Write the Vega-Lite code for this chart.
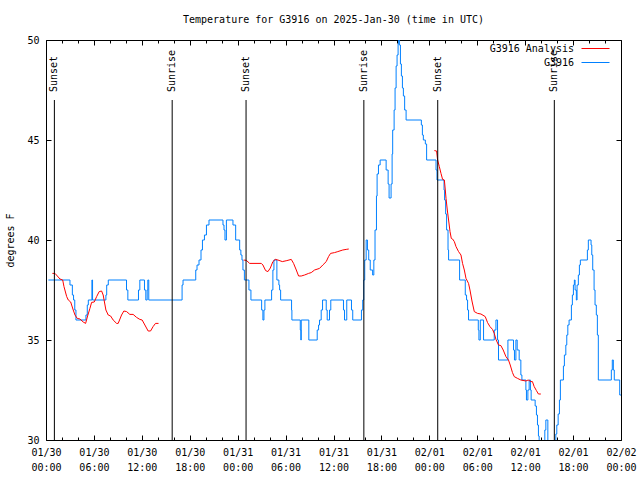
{
  "$schema": "https://vega.github.io/schema/vega-lite/v6.json",
  "width": 575,
  "height": 400,
  "autosize": {"type": "none"},
  "padding": {"left": 46, "top": 40, "right": 19, "bottom": 40},
  "background": "white",
  "title": {"text": "Temperature for G3916 on 2025-Jan-30 (time in UTC)", "font": "DejaVu Sans Mono", "fontSize": 10, "fontWeight": "normal", "anchor": "middle", "offset": 10, "color": "black"},
  "config": {
    "view": {"stroke": "black", "strokeWidth": 1},
    "axis": {"labelFont": "DejaVu Sans Mono", "labelFontSize": 10, "labelColor": "black", "tickColor": "black", "titleFont": "DejaVu Sans Mono", "titleFontSize": 10, "titleFontWeight": "normal", "titleColor": "black", "domain": false, "grid": false, "labelFlush": false, "labelOverlap": false, "labelBound": false}
  },
  "datasets": {
    "blue": [
      {"s":"G3916","h":0.3,"t":38},{"s":"G3916","h":3.0,"t":37.75},{"s":"G3916","h":3.3,"t":37.25},{"s":"G3916","h":3.45,"t":37},{"s":"G3916","h":3.6,"t":36.5},{"s":"G3916","h":3.75,"t":36},
      {"s":"G3916","h":5.0,"t":36.25},{"s":"G3916","h":5.17,"t":36.75},{"s":"G3916","h":5.3,"t":37},{"s":"G3916","h":5.75,"t":38},{"s":"G3916","h":5.83,"t":37},
      {"s":"G3916","h":7.5,"t":37.25},{"s":"G3916","h":7.6,"t":37.75},{"s":"G3916","h":7.8,"t":38},{"s":"G3916","h":10.08,"t":37.5},{"s":"G3916","h":10.25,"t":37},
      {"s":"G3916","h":11.58,"t":37.5},{"s":"G3916","h":11.75,"t":38},{"s":"G3916","h":12.33,"t":37.5},{"s":"G3916","h":12.5,"t":37},{"s":"G3916","h":12.67,"t":37.5},{"s":"G3916","h":12.75,"t":38},{"s":"G3916","h":12.87,"t":37},
      {"s":"G3916","h":17.04,"t":37.75},{"s":"G3916","h":17.16,"t":38},{"s":"G3916","h":18.75,"t":38.5},{"s":"G3916","h":18.91,"t":38.75},{"s":"G3916","h":19.16,"t":39},{"s":"G3916","h":19.41,"t":39.5},{"s":"G3916","h":19.59,"t":40},{"s":"G3916","h":19.84,"t":40.25},{"s":"G3916","h":20.09,"t":40.75},{"s":"G3916","h":20.41,"t":41},
      {"s":"G3916","h":22.16,"t":40.75},{"s":"G3916","h":22.29,"t":40.5},{"s":"G3916","h":22.41,"t":40},{"s":"G3916","h":22.59,"t":41},{"s":"G3916","h":23.41,"t":40.75},{"s":"G3916","h":23.75,"t":40},{"s":"G3916","h":24.25,"t":39.5},{"s":"G3916","h":24.4,"t":39.25},{"s":"G3916","h":24.54,"t":39},{"s":"G3916","h":24.66,"t":38.5},{"s":"G3916","h":24.84,"t":38},
      {"s":"G3916","h":25.41,"t":37.5},{"s":"G3916","h":25.66,"t":37},{"s":"G3916","h":27.0,"t":36.5},{"s":"G3916","h":27.16,"t":36},{"s":"G3916","h":27.29,"t":36.5},{"s":"G3916","h":27.41,"t":37},
      {"s":"G3916","h":28.25,"t":37.5},{"s":"G3916","h":28.41,"t":38.5},{"s":"G3916","h":28.54,"t":39},{"s":"G3916","h":28.91,"t":38},{"s":"G3916","h":29.16,"t":37.75},{"s":"G3916","h":29.25,"t":37.5},{"s":"G3916","h":29.38,"t":37},
      {"s":"G3916","h":30.75,"t":36.5},{"s":"G3916","h":30.79,"t":36},{"s":"G3916","h":31.84,"t":35.5},{"s":"G3916","h":31.91,"t":35},{"s":"G3916","h":31.96,"t":36},{"s":"G3916","h":32.91,"t":35},
      {"s":"G3916","h":33.96,"t":35.5},{"s":"G3916","h":34.13,"t":35.75},{"s":"G3916","h":34.25,"t":36},{"s":"G3916","h":34.46,"t":36.5},{"s":"G3916","h":34.63,"t":37},{"s":"G3916","h":35.09,"t":36.5},{"s":"G3916","h":35.21,"t":36},{"s":"G3916","h":35.5,"t":36.5},{"s":"G3916","h":35.66,"t":37},
      {"s":"G3916","h":37.25,"t":36.5},{"s":"G3916","h":37.38,"t":36},{"s":"G3916","h":37.66,"t":37},{"s":"G3916","h":38.25,"t":36.5},{"s":"G3916","h":38.41,"t":36},{"s":"G3916","h":39.5,"t":36.5},{"s":"G3916","h":39.66,"t":37},{"s":"G3916","h":39.79,"t":38},{"s":"G3916","h":39.91,"t":39},{"s":"G3916","h":40.09,"t":40},{"s":"G3916","h":40.25,"t":39.5},{"s":"G3916","h":40.41,"t":39},
      {"s":"G3916","h":40.6,"t":38.5},{"s":"G3916","h":40.9,"t":38.25},{"s":"G3916","h":41.05,"t":39},{"s":"G3916","h":41.2,"t":40.5},
      {"s":"G3916","h":41.38,"t":42.2},{"s":"G3916","h":41.46,"t":43.3},{"s":"G3916","h":41.63,"t":43.75},{"s":"G3916","h":41.84,"t":44},{"s":"G3916","h":42.59,"t":43.5},{"s":"G3916","h":42.84,"t":42.8},{"s":"G3916","h":42.96,"t":42.1},{"s":"G3916","h":43.21,"t":42.8},
      {"s":"G3916","h":43.34,"t":44.3},{"s":"G3916","h":43.41,"t":45.5},{"s":"G3916","h":43.59,"t":46.5},{"s":"G3916","h":43.71,"t":47.6},{"s":"G3916","h":43.84,"t":48.7},{"s":"G3916","h":43.96,"t":49.25},{"s":"G3916","h":44.09,"t":49.8},{"s":"G3916","h":44.16,"t":50},
      {"s":"G3916","h":44.25,"t":49.75},{"s":"G3916","h":44.38,"t":48.8},{"s":"G3916","h":44.5,"t":48.2},{"s":"G3916","h":44.63,"t":47.6},{"s":"G3916","h":44.75,"t":47.2},{"s":"G3916","h":44.91,"t":46.5},{"s":"G3916","h":45.09,"t":46},
      {"s":"G3916","h":47.0,"t":45.75},{"s":"G3916","h":47.13,"t":45.25},{"s":"G3916","h":47.25,"t":45},{"s":"G3916","h":47.5,"t":44.8},{"s":"G3916","h":47.66,"t":44},{"s":"G3916","h":48.84,"t":43.5},{"s":"G3916","h":48.96,"t":43},
      {"s":"G3916","h":49.84,"t":42.5},{"s":"G3916","h":49.91,"t":42},{"s":"G3916","h":50.04,"t":41.3},{"s":"G3916","h":50.16,"t":40.5},{"s":"G3916","h":50.34,"t":39.5},{"s":"G3916","h":50.41,"t":39},{"s":"G3916","h":51.79,"t":38},
      {"s":"G3916","h":52.5,"t":37.25},{"s":"G3916","h":52.66,"t":37},{"s":"G3916","h":52.79,"t":36.5},{"s":"G3916","h":52.91,"t":36},{"s":"G3916","h":54.13,"t":35.5},{"s":"G3916","h":54.21,"t":35},{"s":"G3916","h":54.38,"t":36},{"s":"G3916","h":54.79,"t":35},
      {"s":"G3916","h":56.13,"t":35.5},{"s":"G3916","h":56.34,"t":36},{"s":"G3916","h":56.54,"t":35},{"s":"G3916","h":56.66,"t":34},{"s":"G3916","h":57.84,"t":35},{"s":"G3916","h":58.54,"t":34.5},{"s":"G3916","h":58.66,"t":34},{"s":"G3916","h":58.84,"t":35},{"s":"G3916","h":59.0,"t":34.5},{"s":"G3916","h":59.25,"t":34},
      {"s":"G3916","h":59.46,"t":33.25},{"s":"G3916","h":59.59,"t":33},{"s":"G3916","h":60.09,"t":32.5},{"s":"G3916","h":60.16,"t":32},{"s":"G3916","h":60.34,"t":32.5},{"s":"G3916","h":60.5,"t":33},{"s":"G3916","h":60.66,"t":32.5},{"s":"G3916","h":60.75,"t":32},
      {"s":"G3916","h":61.25,"t":31.7},{"s":"G3916","h":61.41,"t":31.25},{"s":"G3916","h":61.54,"t":30.75},{"s":"G3916","h":61.66,"t":30.2},{"s":"G3916","h":61.75,"t":29},{"s":"G3916","h":62.46,"t":30.5},{"s":"G3916","h":62.59,"t":31},{"s":"G3916","h":62.84,"t":29},
      {"s":"G3916","h":63.84,"t":30.3},{"s":"G3916","h":63.96,"t":30.75},{"s":"G3916","h":64.13,"t":31.3},{"s":"G3916","h":64.29,"t":32},{"s":"G3916","h":64.41,"t":33},{"s":"G3916","h":64.79,"t":33.7},{"s":"G3916","h":64.91,"t":34.25},{"s":"G3916","h":65.09,"t":34.75},{"s":"G3916","h":65.21,"t":35.25},{"s":"G3916","h":65.34,"t":35.75},{"s":"G3916","h":65.5,"t":36},
      {"s":"G3916","h":65.79,"t":36.75},{"s":"G3916","h":65.91,"t":37.25},{"s":"G3916","h":66.04,"t":37.75},{"s":"G3916","h":66.16,"t":38},{"s":"G3916","h":66.25,"t":37.5},{"s":"G3916","h":66.41,"t":37},{"s":"G3916","h":66.5,"t":37.75},{"s":"G3916","h":66.66,"t":38.25},{"s":"G3916","h":66.79,"t":38.75},{"s":"G3916","h":66.91,"t":39},
      {"s":"G3916","h":67.79,"t":39.5},{"s":"G3916","h":67.91,"t":40},{"s":"G3916","h":68.25,"t":39.75},{"s":"G3916","h":68.34,"t":39.25},{"s":"G3916","h":68.46,"t":38.5},{"s":"G3916","h":68.63,"t":37.5},{"s":"G3916","h":68.75,"t":36.75},{"s":"G3916","h":68.91,"t":36.25},{"s":"G3916","h":69.04,"t":35.25},{"s":"G3916","h":69.16,"t":33},
      {"s":"G3916","h":70.79,"t":33.5},{"s":"G3916","h":70.91,"t":34},{"s":"G3916","h":71.04,"t":33.5},{"s":"G3916","h":71.16,"t":33},{"s":"G3916","h":71.84,"t":32.25},{"s":"G3916","h":72.0,"t":32.25}
    ],
    "red": [
      {"s":"G3916 Analysis","g":1,"h":0.8,"t":38.33},{"s":"G3916 Analysis","g":1,"h":1.13,"t":38.33},{"s":"G3916 Analysis","g":1,"h":1.75,"t":38.05},{"s":"G3916 Analysis","g":1,"h":2.09,"t":38.0},{"s":"G3916 Analysis","g":1,"h":2.25,"t":37.67},{"s":"G3916 Analysis","g":1,"h":2.59,"t":37.17},{"s":"G3916 Analysis","g":1,"h":2.79,"t":37.0},{"s":"G3916 Analysis","g":1,"h":3.09,"t":36.9},
      {"s":"G3916 Analysis","g":1,"h":3.41,"t":36.5},{"s":"G3916 Analysis","g":1,"h":3.63,"t":36.25},{"s":"G3916 Analysis","g":1,"h":3.91,"t":36.08},{"s":"G3916 Analysis","g":1,"h":4.25,"t":36.05},{"s":"G3916 Analysis","g":1,"h":4.66,"t":35.9},{"s":"G3916 Analysis","g":1,"h":4.96,"t":35.83},{"s":"G3916 Analysis","g":1,"h":5.21,"t":36.2},{"s":"G3916 Analysis","g":1,"h":5.5,"t":36.58},
      {"s":"G3916 Analysis","g":1,"h":5.71,"t":36.88},{"s":"G3916 Analysis","g":1,"h":6.04,"t":36.9},{"s":"G3916 Analysis","g":1,"h":6.34,"t":37.17},{"s":"G3916 Analysis","g":1,"h":6.66,"t":37.42},{"s":"G3916 Analysis","g":1,"h":6.96,"t":37.45},{"s":"G3916 Analysis","g":1,"h":7.16,"t":37.25},{"s":"G3916 Analysis","g":1,"h":7.5,"t":36.5},{"s":"G3916 Analysis","g":1,"h":7.79,"t":36.25},
      {"s":"G3916 Analysis","g":1,"h":8.09,"t":36.2},{"s":"G3916 Analysis","g":1,"h":8.41,"t":36.0},{"s":"G3916 Analysis","g":1,"h":8.84,"t":35.83},{"s":"G3916 Analysis","g":1,"h":9.04,"t":35.83},{"s":"G3916 Analysis","g":1,"h":9.46,"t":36.25},{"s":"G3916 Analysis","g":1,"h":9.75,"t":36.45},{"s":"G3916 Analysis","g":1,"h":10.09,"t":36.42},{"s":"G3916 Analysis","g":1,"h":10.5,"t":36.28},
      {"s":"G3916 Analysis","g":1,"h":10.91,"t":36.28},{"s":"G3916 Analysis","g":1,"h":11.34,"t":36.13},{"s":"G3916 Analysis","g":1,"h":11.75,"t":36.03},{"s":"G3916 Analysis","g":1,"h":12.04,"t":36.0},{"s":"G3916 Analysis","g":1,"h":12.38,"t":35.75},{"s":"G3916 Analysis","g":1,"h":12.79,"t":35.45},{"s":"G3916 Analysis","g":1,"h":13.09,"t":35.45},{"s":"G3916 Analysis","g":1,"h":13.41,"t":35.67},
      {"s":"G3916 Analysis","g":1,"h":13.71,"t":35.83},{"s":"G3916 Analysis","g":1,"h":14.09,"t":35.83},
      {"s":"G3916 Analysis","g":2,"h":24.75,"t":39.0},{"s":"G3916 Analysis","g":2,"h":25.09,"t":38.98},{"s":"G3916 Analysis","g":2,"h":25.5,"t":38.83},{"s":"G3916 Analysis","g":2,"h":26.96,"t":38.83},{"s":"G3916 Analysis","g":2,"h":27.16,"t":38.75},{"s":"G3916 Analysis","g":2,"h":27.5,"t":38.47},{"s":"G3916 Analysis","g":2,"h":27.79,"t":38.42},{"s":"G3916 Analysis","g":2,"h":28.09,"t":38.6},
      {"s":"G3916 Analysis","g":2,"h":28.41,"t":38.92},{"s":"G3916 Analysis","g":2,"h":28.71,"t":39.03},{"s":"G3916 Analysis","g":2,"h":29.04,"t":39.0},{"s":"G3916 Analysis","g":2,"h":29.59,"t":38.92},{"s":"G3916 Analysis","g":2,"h":30.16,"t":38.97},{"s":"G3916 Analysis","g":2,"h":30.71,"t":39.03},{"s":"G3916 Analysis","g":2,"h":31.0,"t":38.83},{"s":"G3916 Analysis","g":2,"h":31.34,"t":38.5},
      {"s":"G3916 Analysis","g":2,"h":31.63,"t":38.2},{"s":"G3916 Analysis","g":2,"h":31.96,"t":38.2},{"s":"G3916 Analysis","g":2,"h":32.38,"t":38.25},{"s":"G3916 Analysis","g":2,"h":32.88,"t":38.33},{"s":"G3916 Analysis","g":2,"h":33.21,"t":38.37},{"s":"G3916 Analysis","g":2,"h":33.63,"t":38.5},{"s":"G3916 Analysis","g":2,"h":34.25,"t":38.58},{"s":"G3916 Analysis","g":2,"h":34.66,"t":38.75},
      {"s":"G3916 Analysis","g":2,"h":35.09,"t":38.92},{"s":"G3916 Analysis","g":2,"h":35.38,"t":39.17},{"s":"G3916 Analysis","g":2,"h":35.63,"t":39.33},{"s":"G3916 Analysis","g":2,"h":36.13,"t":39.37},{"s":"G3916 Analysis","g":2,"h":36.54,"t":39.42},{"s":"G3916 Analysis","g":2,"h":37.16,"t":39.5},{"s":"G3916 Analysis","g":2,"h":37.59,"t":39.53},{"s":"G3916 Analysis","g":2,"h":37.91,"t":39.55},
      {"s":"G3916 Analysis","g":3,"h":48.63,"t":44.47},{"s":"G3916 Analysis","g":3,"h":48.91,"t":44.45},{"s":"G3916 Analysis","g":3,"h":49.04,"t":44.0},{"s":"G3916 Analysis","g":3,"h":49.25,"t":43.67},{"s":"G3916 Analysis","g":3,"h":49.46,"t":43.33},{"s":"G3916 Analysis","g":3,"h":49.66,"t":43.03},{"s":"G3916 Analysis","g":3,"h":49.88,"t":43.0},{"s":"G3916 Analysis","g":3,"h":50.0,"t":42.5},
      {"s":"G3916 Analysis","g":3,"h":50.09,"t":42.08},{"s":"G3916 Analysis","g":3,"h":50.25,"t":41.5},{"s":"G3916 Analysis","g":3,"h":50.41,"t":41.0},{"s":"G3916 Analysis","g":3,"h":50.59,"t":40.42},{"s":"G3916 Analysis","g":3,"h":50.75,"t":40.08},{"s":"G3916 Analysis","g":3,"h":50.91,"t":40.05},{"s":"G3916 Analysis","g":3,"h":51.13,"t":39.92},{"s":"G3916 Analysis","g":3,"h":51.34,"t":39.67},
      {"s":"G3916 Analysis","g":3,"h":51.66,"t":39.42},{"s":"G3916 Analysis","g":3,"h":51.96,"t":39.25},{"s":"G3916 Analysis","g":3,"h":52.16,"t":38.83},{"s":"G3916 Analysis","g":3,"h":52.38,"t":38.5},{"s":"G3916 Analysis","g":3,"h":52.59,"t":38.08},{"s":"G3916 Analysis","g":3,"h":52.91,"t":37.83},{"s":"G3916 Analysis","g":3,"h":53.09,"t":37.5},{"s":"G3916 Analysis","g":3,"h":53.34,"t":36.95},
      {"s":"G3916 Analysis","g":3,"h":53.63,"t":36.42},{"s":"G3916 Analysis","g":3,"h":54.04,"t":36.33},{"s":"G3916 Analysis","g":3,"h":54.46,"t":36.3},{"s":"G3916 Analysis","g":3,"h":55.0,"t":36.17},{"s":"G3916 Analysis","g":3,"h":55.29,"t":35.87},{"s":"G3916 Analysis","g":3,"h":55.59,"t":35.67},{"s":"G3916 Analysis","g":3,"h":55.91,"t":35.53},{"s":"G3916 Analysis","g":3,"h":56.13,"t":35.33},
      {"s":"G3916 Analysis","g":3,"h":56.34,"t":35.03},{"s":"G3916 Analysis","g":3,"h":56.66,"t":34.75},{"s":"G3916 Analysis","g":3,"h":56.96,"t":34.72},{"s":"G3916 Analysis","g":3,"h":57.25,"t":34.5},{"s":"G3916 Analysis","g":3,"h":57.59,"t":34.17},{"s":"G3916 Analysis","g":3,"h":57.91,"t":34.0},{"s":"G3916 Analysis","g":3,"h":58.13,"t":33.75},{"s":"G3916 Analysis","g":3,"h":58.41,"t":33.37},
      {"s":"G3916 Analysis","g":3,"h":58.63,"t":33.17},{"s":"G3916 Analysis","g":3,"h":59.04,"t":33.08},{"s":"G3916 Analysis","g":3,"h":59.46,"t":33.0},{"s":"G3916 Analysis","g":3,"h":60.09,"t":32.95},{"s":"G3916 Analysis","g":3,"h":60.38,"t":33.0},{"s":"G3916 Analysis","g":3,"h":60.71,"t":32.92},{"s":"G3916 Analysis","g":3,"h":60.91,"t":32.92},{"s":"G3916 Analysis","g":3,"h":61.13,"t":32.67},
      {"s":"G3916 Analysis","g":3,"h":61.41,"t":32.47},{"s":"G3916 Analysis","g":3,"h":61.66,"t":32.3},{"s":"G3916 Analysis","g":3,"h":61.96,"t":32.3}
    ],
    "sun": [
      {"h":1.05,"label":"Sunset"},{"h":15.8,"label":"Sunrise"},{"h":25.05,"label":"Sunset"},{"h":39.8,"label":"Sunrise"},{"h":49.05,"label":"Sunset"},{"h":63.65,"label":"Sunrise"}
    ]
  },
  "resolve": {"axis": {"x": "independent", "y": "independent"}},
  "layer": [
    {
      "data": {"name": "blue"},
      "mark": {"type": "line", "interpolate": "step-after", "strokeWidth": 1, "clip": true},
      "encoding": {
        "x": {"field": "h", "type": "quantitative", "scale": {"domain": [0, 72], "nice": false, "zero": false},
          "axis": {"orient": "bottom", "title": null, "values": [0,2,4,6,8,10,12,14,16,18,20,22,24,26,28,30,32,34,36,38,40,42,44,46,48,50,52,54,56,58,60,62,64,66,68,70,72],
            "tickSize": {"condition": {"test": "datum.value % 6 === 0", "value": -5}, "value": -3},
            "labelPadding": 12, "labelLineHeight": 15, "labelBaseline": "top",
            "labelExpr": "datum.value % 6 === 0 ? [utcFormat(utc(2025,0,30) + datum.value*3600000, '%m/%d'), utcFormat(utc(2025,0,30) + datum.value*3600000, '%H:%M')] : ''"}},
        "y": {"field": "t", "type": "quantitative", "scale": {"domain": [30, 50], "nice": false, "zero": false},
          "axis": {"orient": "left", "title": "degrees F", "values": [30,35,40,45,50], "tickSize": -5, "labelPadding": 12, "titlePadding": 11}},
        "color": {"field": "s", "type": "nominal", "scale": {"domain": ["G3916 Analysis", "G3916"], "range": ["#ff0000", "#0080ff"]},
          "legend": {"orient": "none", "legendX": 544, "legendY": 3, "title": null, "symbolType": "M-2.8,0H2.8", "symbolSize": 100, "symbolStrokeWidth": 1, "labelFont": "DejaVu Sans Mono", "labelFontSize": 10, "labelColor": "black", "labelAlign": "right", "labelOffset": -27, "rowPadding": 3, "labelExpr": "pad(datum.label, 14, ' ', 'left')"}}
      }
    },
    {
      "data": {"name": "red"},
      "mark": {"type": "line", "strokeWidth": 1, "clip": true},
      "encoding": {
        "x": {"field": "h", "type": "quantitative", "axis": null},
        "y": {"field": "t", "type": "quantitative", "axis": null},
        "color": {"field": "s", "type": "nominal"},
        "detail": {"field": "g", "type": "nominal"}
      }
    },
    {
      "data": {"name": "sun"},
      "mark": {"type": "rule", "color": "black", "strokeWidth": 1},
      "encoding": {
        "x": {"field": "h", "type": "quantitative",
          "axis": {"orient": "top", "title": null, "labels": false, "values": [0,2,4,6,8,10,12,14,16,18,20,22,24,26,28,30,32,34,36,38,40,42,44,46,48,50,52,54,56,58,60,62,64,66,68,70,72],
            "tickSize": {"condition": {"test": "datum.value % 6 === 0", "value": -5}, "value": -3}}},
        "y": {"datum": 30, "type": "quantitative", "axis": {"orient": "right", "title": null, "labels": false, "values": [30,35,40,45,50], "tickSize": -5}},
        "y2": {"datum": 47}
      }
    },
    {
      "data": {"name": "sun"},
      "mark": {"type": "text", "angle": 270, "align": "left", "baseline": "middle", "font": "DejaVu Sans Mono", "fontSize": 10, "color": "black"},
      "encoding": {
        "x": {"field": "h", "type": "quantitative", "axis": null},
        "y": {"datum": 47.4, "type": "quantitative", "axis": null},
        "text": {"field": "label"}
      }
    }
  ]
}
